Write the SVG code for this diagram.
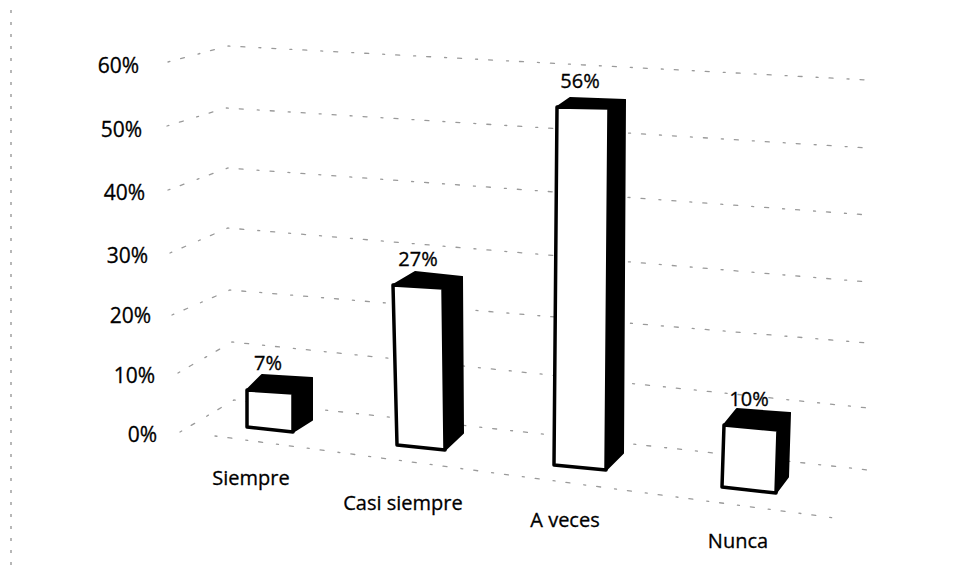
<svg xmlns="http://www.w3.org/2000/svg" width="971" height="582" viewBox="0 0 971 582">
<style>
.grid{fill:none;stroke:#9a9a9a;stroke-width:1.3;stroke-dasharray:2 11 4 14;stroke-linecap:round}
.ax{font-family:"Open Sans","Liberation Sans",sans-serif;font-size:21px;fill:#000;stroke:#000;stroke-width:0.3;text-anchor:end}
.lbl{font-family:"Open Sans","Liberation Sans",sans-serif;font-size:20px;fill:#000;stroke:#000;stroke-width:0.3;text-anchor:middle}
.front{fill:#fff;stroke:#000;stroke-width:3.5;stroke-linejoin:round}
.dark{fill:#000;stroke:#000;stroke-width:2;stroke-linejoin:round}
</style>
<line x1="11" y1="10" x2="11" y2="565" stroke="#888" stroke-width="1.2" stroke-dasharray="3 9"/>
<g id="gridlines">
<polyline class="grid" points="168,62 228,46 868,80"/>
<polyline class="grid" points="167,126 226,108 868,148"/>
<polyline class="grid" points="168,190 228,168 868,215"/>
<polyline class="grid" points="170,253 228,228 868,282"/>
<polyline class="grid" points="172,315 230,290 868,343"/>
<polyline class="grid" points="178,373 232,342 868,408"/>
<polyline class="grid" points="180,432 234,400 868,470"/>
<line class="grid" x1="215" y1="436" x2="835" y2="518"/>
</g>
<g id="axis">
<text class="ax" x="139" y="73">60%</text>
<text class="ax" x="142" y="137">50%</text>
<text class="ax" x="145" y="200">40%</text>
<text class="ax" x="148" y="263">30%</text>
<text class="ax" x="151" y="323">20%</text>
<text class="ax" x="155" y="383">10%</text>
<text class="ax" x="157" y="442">0%</text>
</g>
<g id="bar-siempre">
<polygon class="dark" points="247,390 262,375 312,378 293,393"/>
<polygon class="dark" points="293,393 312,378 312,420 293,432"/>
<polygon class="front" points="247,390 293,393 293,432 247,427"/>
<text class="lbl" x="268" y="370">7%</text>
<text class="lbl" x="251" y="485">Siempre</text>
</g>
<g id="bar-casi-siempre">
<polygon class="dark" points="393,285 415,272 462,277 443,288"/>
<polygon class="dark" points="443,288 462,277 463,433 445,450"/>
<polygon class="front" points="393,285 443,288 445,450 397,445"/>
<text class="lbl" x="418" y="266">27%</text>
<text class="lbl" x="403" y="510">Casi siempre</text>
</g>
<g id="bar-a-veces">
<polygon class="dark" points="557,107 570,98 625,100 609,108"/>
<polygon class="dark" points="609,108 625,100 623,453 606,470"/>
<polygon class="front" points="557,107 609,108 606,470 554,465"/>
<text class="lbl" x="580" y="88">56%</text>
<text class="lbl" x="565" y="527">A veces</text>
</g>
<g id="bar-nunca">
<polygon class="dark" points="724,425 737,409 790,413 778,430"/>
<polygon class="dark" points="778,430 790,413 788,477 776,493"/>
<polygon class="front" points="724,425 778,430 776,493 722,487"/>
<text class="lbl" x="749" y="406">10%</text>
<text class="lbl" x="738" y="548">Nunca</text>
</g>
</svg>
